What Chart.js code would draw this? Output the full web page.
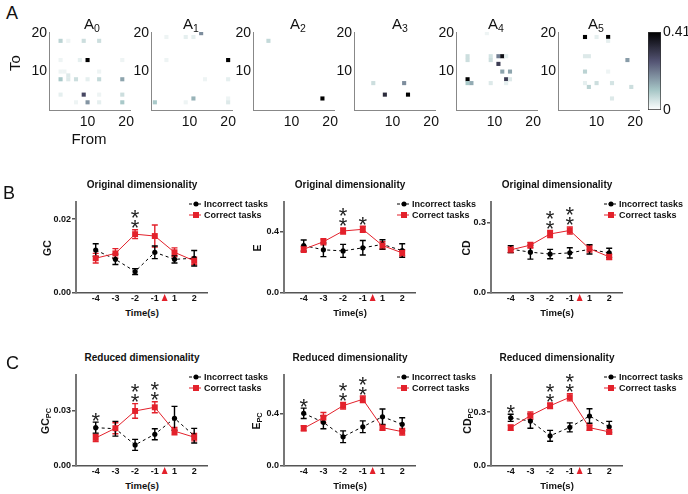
<!DOCTYPE html>
<html>
<head>
<meta charset="utf-8">
<script src="https://cdn.jsdelivr.net/npm/chart.js@4.4.1/dist/chart.umd.min.js"></script>
<style>
  body { margin: 0; background: #fff; }
  #page { position: relative; width: 688px; height: 494px; overflow: hidden; background: #fff;
          font-family: "Liberation Sans", Arial, sans-serif; color: #111; }
  #page canvas { position: absolute; }
  .t { position: absolute; white-space: nowrap; line-height: 1; transform: translate(-50%, -50%); }
  .tl { position: absolute; white-space: nowrap; line-height: 1; transform: translateY(-50%); }
  .rot { position: absolute; white-space: nowrap; line-height: 1; transform: translate(-50%, -50%) rotate(-90deg); }
  .sub { position: relative; top: 0.3em; font-size: 70%; }
</style>
</head>
<body>
<div id="page"></div>
<script>
// ---- data ----
const timeLabels = ['-4', '-3', '-2', '-1', '1', '2'];
const onsetIndex = 3.5; // red triangle between -1 and 1
const legendLabels = ['Incorrect tasks', 'Correct tasks'];

const gcIncorrect = [0.0116, 0.0091, 0.0058, 0.0110, 0.0091, 0.0094];
const gcIncorrectErr = [0.0017, 0.0014, 0.0008, 0.0017, 0.0010, 0.0021];
const gcCorrect = [0.0094, 0.0107, 0.0159, 0.0154, 0.0110, 0.0087];
const gcCorrectErr = [0.0013, 0.0013, 0.0012, 0.0030, 0.0012, 0.0010];
const gcStars = [0, 0, 2, 0, 0, 0];

const eIncorrect = [0.308, 0.280, 0.273, 0.293, 0.315, 0.275];
const eIncorrectErr = [0.036, 0.044, 0.042, 0.047, 0.030, 0.044];
const eCorrect = [0.284, 0.332, 0.402, 0.413, 0.308, 0.260];
const eCorrectErr = [0.020, 0.020, 0.020, 0.020, 0.025, 0.020];
const eStars = [0, 0, 2, 1, 0, 0];

const cdIncorrect = [0.188, 0.175, 0.167, 0.172, 0.187, 0.172];
const cdIncorrectErr = [0.015, 0.030, 0.020, 0.022, 0.020, 0.020];
const cdCorrect = [0.185, 0.205, 0.253, 0.268, 0.190, 0.155];
const cdCorrectErr = [0.012, 0.012, 0.015, 0.015, 0.015, 0.012];
const cdStars = [0, 0, 2, 2, 0, 0];

const gcPcIncorrect = [0.0209, 0.0203, 0.0115, 0.0173, 0.0260, 0.0165];
const gcPcIncorrectErr = [0.0030, 0.0040, 0.0030, 0.0030, 0.0065, 0.0040];
const gcPcCorrect = [0.0153, 0.0206, 0.0300, 0.0320, 0.0190, 0.0157];
const gcPcCorrectErr = [0.0020, 0.0030, 0.0040, 0.0030, 0.0020, 0.0020];
const gcPcStars = [1, 0, 2, 2, 0, 0];

const ePcIncorrect = [0.405, 0.336, 0.225, 0.302, 0.379, 0.321];
const ePcIncorrectErr = [0.040, 0.050, 0.045, 0.045, 0.060, 0.050];
const ePcCorrect = [0.290, 0.372, 0.464, 0.513, 0.295, 0.264];
const ePcCorrectErr = [0.020, 0.040, 0.025, 0.025, 0.020, 0.025];
const ePcStars = [1, 0, 2, 2, 0, 0];

const cdPcIncorrect = [0.268, 0.250, 0.168, 0.215, 0.278, 0.218];
const cdPcIncorrectErr = [0.020, 0.040, 0.030, 0.025, 0.040, 0.030];
const cdPcCorrect = [0.213, 0.280, 0.335, 0.382, 0.213, 0.190];
const cdPcCorrectErr = [0.015, 0.020, 0.015, 0.020, 0.015, 0.012];
const cdPcStars = [1, 0, 2, 2, 0, 0];

// connectivity matrices: [from, to, value]
const colorMax = 0.41;
const matrixA0 = [[3,18,0.08],[5,18,0.02],[9,18,0.06],[13,18,0.06],
  [3,13,0.02],[8,13,0.03],[10,13,0.41],[19,13,0.02],
  [3,10,0.02],[4,10,0.02],[13,10,0.02],[5,9,0.04],
  [3,8,0.10],[5,8,0.04],[7,8,0.06],[10,8,0.03],[13,8,0.07],[19,8,0.15],
  [3,4,0.03],[9,4,0.28],[13,4,0.02],[19,4,0.06],
  [7,2,0.02],[10,2,0.17],[13,2,0.03],[19,2,0.10]];
const matrixA1 = [[13,20,0.18],[4,19,0.02],[9,19,0.03],[11,19,0.03],
  [20,13,0.41],[4,13,0.02],[14,8,0.02],[20,8,0.03],
  [11,3,0.13],[20,3,0.02],[1,2,0.10],[9,2,0.02],[20,2,0.04]];
const matrixA2 = [[4,18,0.07],[18,3,0.41]];
const matrixA3 = [[5,7,0.06],[8,4,0.33],[13,7,0.18],[14,4,0.41]];
const matrixA4 = [[8,20,0.02],[3,14,0.06],[3,13,0.06],[9,14,0.05],[9,13,0.06],
  [11,14,0.20],[12,14,0.38],[13,14,0.03],[11,12,0.30],[12,10,0.15],[14,10,0.15],
  [13,8,0.30],[14,8,0.04],[3,8,0.41],[3,7,0.10],[4,7,0.14],[9,7,0.04],[13,7,0.03]];
const matrixA5 = [[7,19,0.41],[10,19,0.03],[13,19,0.41],[13,18,0.03],
  [7,14,0.04],[8,14,0.04],[18,13,0.16],[7,10,0.08],[13,10,0.02],
  [7,7,0.03],[8,6,0.08],[10,7,0.06],[14,7,0.05],[14,3,0.04],[19,6,0.06]];
const matrixTicks = [10, 20];

// ---- helpers ----
Chart.defaults.font.family = '"Liberation Sans", Arial, sans-serif';
Chart.defaults.color = '#111';
const page = document.getElementById('page');
const red = '#e3212b';

function addCanvas(left, top, w, h) {
  const c = document.createElement('canvas');
  c.width = w; c.height = h;
  c.style.left = left + 'px'; c.style.top = top + 'px';
  page.appendChild(c);
  return c;
}

function text(x, y, html, css, cls) {
  const d = document.createElement('div');
  d.className = cls || 't';
  d.style.cssText = 'left:' + x + 'px;top:' + y + 'px;' + (css || '');
  d.innerHTML = html;
  page.appendChild(d);
  return d;
}

// reversed MATLAB "bone"
function boneColor(v) {
  const t = 1 - Math.min(Math.max(v / colorMax, 0), 1);
  const hr = Math.min(1, t / 0.375);
  const hg = Math.min(1, Math.max(0, (t - 0.375) / 0.375));
  const hb = Math.min(1, Math.max(0, (t - 0.75) / 0.25));
  const r = (7 * t + hb) / 8, g = (7 * t + hg) / 8, b = (7 * t + hr) / 8;
  return 'rgb(' + Math.round(r * 255) + ',' + Math.round(g * 255) + ',' + Math.round(b * 255) + ')';
}

// ---- panel A: matrices ----
function matrixPanel(x0, cells) {
  const w = 81, h = 78, yW = 30, xH = 22, padT = 12, padR = 14;
  const canvas = addCanvas(x0 - yW, 32 - padT, w + yW + padR, h + padT + xH);
  const axisTicks = s => { s.ticks = matrixTicks.map(v => ({ value: v })); };
  new Chart(canvas, {
    type: 'scatter',
    data: {
      datasets: [{
        data: cells.map(c => ({ x: c[0], y: c[1], v: c[2] })),
        pointStyle: 'rect',
        pointRadius: 2.9,
        borderWidth: 0,
        backgroundColor: ctx => ctx.raw ? boneColor(ctx.raw.v) : '#fff'
      }]
    },
    options: {
      animation: false,
      responsive: false,
      layout: { padding: { left: 0, top: padT, right: padR, bottom: 0 } },
      plugins: { legend: { display: false }, tooltip: { enabled: false } },
      scales: {
        x: {
          type: 'linear', min: 0, max: 21,
          afterBuildTicks: axisTicks,
          afterFit: s => { s.height = xH; },
          ticks: { font: { size: 14 }, padding: 4, color: '#111', maxRotation: 0 },
          grid: { display: false, drawTicks: false },
          border: { color: '#888', width: 1 }
        },
        y: {
          type: 'linear', min: 0, max: 20.3,
          afterBuildTicks: axisTicks,
          afterFit: s => { s.width = yW; },
          ticks: { font: { size: 14 }, padding: 2, color: '#111' },
          grid: { display: false, drawTicks: false },
          border: { color: '#888', width: 1 }
        }
      }
    }
  });
}

const matrices = [matrixA0, matrixA1, matrixA2, matrixA3, matrixA4, matrixA5];
const matrixLeft = [49, 150.8, 252.6, 354.4, 456.2, 558];
const matrixTitleLeft = [84, 183, 290, 392, 488, 588];
matrices.forEach((m, i) => {
  matrixPanel(matrixLeft[i], m);
  text(matrixTitleLeft[i], 23, 'A<span class="sub">' + i + '</span>', 'font-size:15px;', 'tl');
});

// colour bar
(function () {
  const x0 = 648, w = 13, h = 78, yW = 30, padT = 12;
  const canvas = addCanvas(x0, 32 - padT, w + yW, h + padT + 12);
  new Chart(canvas, {
    type: 'bar',
    data: {
      labels: [''],
      datasets: [{
        data: [[0, colorMax]],
        barPercentage: 1,
        categoryPercentage: 1,
        borderWidth: 1,
        borderColor: '#333',
        borderSkipped: false,
        backgroundColor: ctx => {
          const area = ctx.chart.chartArea;
          if (!area) return '#888';
          const g = ctx.chart.ctx.createLinearGradient(0, area.bottom, 0, area.top);
          for (let k = 0; k <= 20; k++) g.addColorStop(k / 20, boneColor(k / 20 * colorMax));
          return g;
        }
      }]
    },
    options: {
      animation: false,
      responsive: false,
      layout: { padding: { left: 0, top: padT, right: 0, bottom: 12 } },
      plugins: { legend: { display: false }, tooltip: { enabled: false } },
      scales: {
        x: { display: false },
        y: {
          position: 'right', min: 0, max: colorMax,
          afterBuildTicks: s => { s.ticks = [{ value: 0 }, { value: colorMax }]; },
          afterFit: s => { s.width = yW; },
          ticks: { font: { size: 14 }, padding: 2, color: '#111', callback: v => (v === 0 ? '0' : String(v)) },
          grid: { display: false, drawTicks: false },
          border: { display: false }
        }
      }
    }
  });
})();

text(12, 13, 'A', 'font-size:18px;');
text(14, 63, 'To', 'font-size:15px;', 'rot');
text(89, 138, 'From', 'font-size:15px;');

// ---- panels B and C ----
const errorBars = {
  id: 'errorBars',
  beforeDatasetsDraw(chart) {
    const { ctx, scales: { x, y } } = chart;
    chart.data.datasets.forEach(ds => {
      ctx.save();
      ctx.strokeStyle = ds.borderColor;
      ctx.lineWidth = 1.4;
      ds.data.forEach((p, i) => {
        const px = x.getPixelForValue(p.x);
        const top = y.getPixelForValue(p.y + ds.errors[i]);
        const bot = y.getPixelForValue(p.y - ds.errors[i]);
        ctx.beginPath();
        ctx.moveTo(px, top); ctx.lineTo(px, bot);
        ctx.moveTo(px - 3, top); ctx.lineTo(px + 3, top);
        ctx.moveTo(px - 3, bot); ctx.lineTo(px + 3, bot);
        ctx.stroke();
      });
      ctx.restore();
    });
  }
};

function markers(stars) {
  const fs = 22;
  return {
    id: 'markers',
    afterDatasetsDraw(chart) {
      const { ctx, scales: { x, y } } = chart;
      ctx.save();
      ctx.fillStyle = '#222';
      ctx.font = fs + 'px "Liberation Sans", Arial, sans-serif';
      ctx.textAlign = 'center';
      ctx.textBaseline = 'alphabetic';
      stars.forEach((n, i) => {
        if (!n) return;
        let top = Infinity;
        chart.data.datasets.forEach(ds => {
          top = Math.min(top, y.getPixelForValue(ds.data[i].y + ds.errors[i]));
        });
        const px = x.getPixelForValue(i);
        for (let k = 0; k < n; k++) {
          const cy = top - 7.5 - 10 * k;
          ctx.fillText('*', px, cy + 0.59 * fs);
        }
      });
      // onset triangle
      const ox = x.getPixelForValue(onsetIndex);
      const base = y.bottom;
      ctx.fillStyle = red;
      ctx.beginPath();
      ctx.moveTo(ox, base + 1);
      ctx.lineTo(ox + 3, base + 8);
      ctx.lineTo(ox - 3, base + 8);
      ctx.closePath();
      ctx.fill();
      ctx.restore();
    }
  };
}

function linePanel(o) {
  const x0 = o.x0, y0 = o.y0, w = 131, h = 91;
  const yW = 36, xH = 12, padT = 12, padR = 6;
  const canvas = addCanvas(x0 - yW, y0 - padT, w + yW + padR, h + padT + xH);
  new Chart(canvas, {
    type: 'line',
    data: {
      datasets: [
        {
          label: legendLabels[1],
          data: o.cor.map((v, i) => ({ x: i, y: v })),
          errors: o.corErr,
          borderColor: red,
          backgroundColor: red,
          pointBackgroundColor: red,
          pointBorderWidth: 0,
          borderWidth: 1,
          pointStyle: 'rect',
          pointRadius: 4.2
        },
        {
          label: legendLabels[0],
          data: o.inc.map((v, i) => ({ x: i, y: v })),
          errors: o.incErr,
          borderColor: '#000',
          backgroundColor: '#000',
          pointBackgroundColor: '#000',
          pointBorderWidth: 0,
          borderWidth: 1,
          borderDash: [3, 3],
          pointStyle: 'circle',
          pointRadius: 2.6
        }
      ]
    },
    options: {
      animation: false,
      responsive: false,
      layout: { padding: { left: 0, top: padT, right: padR, bottom: 0 } },
      plugins: { legend: { display: false }, tooltip: { enabled: false } },
      scales: {
        x: {
          type: 'linear', min: -1, max: 5.65,
          afterBuildTicks: s => { s.ticks = timeLabels.map((_, i) => ({ value: i })); },
          afterFit: s => { s.height = xH; },
          ticks: { callback: v => timeLabels[v], padding: 0, font: { size: 9, weight: 'bold' }, color: '#111', maxRotation: 0, autoSkip: false },
          grid: { display: false, drawTicks: false },
          border: { color: '#555', width: 1.5 }
        },
        y: {
          min: 0, max: o.yMax,
          afterBuildTicks: s => { s.ticks = o.yTicks.map(v => ({ value: v })); },
          afterFit: s => { s.width = yW; },
          ticks: { callback: v => v.toFixed(o.digits), padding: 1, font: { size: 9, weight: 'bold' }, color: '#111' },
          grid: { drawOnChartArea: false, tickLength: 4, color: '#555', lineWidth: 1.5 },
          border: { color: '#777', width: 2 }
        }
      }
    },
    plugins: [errorBars, markers(o.stars)]
  });

  const cx = x0 + 66;
  text(cx, y0 - 17, o.title, 'font-size:10px;font-weight:bold;');
  text(cx, y0 + 111, 'Time(s)', 'font-size:9.5px;font-weight:bold;');
  text(o.ylx, y0 + 46, o.ylabel, 'font-size:10.5px;font-weight:bold;', 'rot');

  // legend
  const lx = x0 + 113, r1 = y0 + 1.5, r2 = y0 + 12.5;
  text(lx, r1, '', 'width:12px;height:0;border-top:1px dashed #000;', 'tl');
  text(lx + 6.5, r1, '', 'width:5px;height:5px;border-radius:50%;background:#000;');
  text(lx, r2, '', 'width:12px;height:0;border-top:1px solid ' + red + ';', 'tl');
  text(lx + 6.5, r2, '', 'width:6px;height:6px;background:' + red + ';');
  text(x0 + 128, r1, legendLabels[0], 'font-size:9px;font-weight:bold;', 'tl');
  text(x0 + 128, r2, legendLabels[1], 'font-size:9px;font-weight:bold;', 'tl');
}

const orig = 'Original dimensionality', red2 = 'Reduced dimensionality';
linePanel({ x0: 76, y0: 202, title: orig, ylabel: 'GC', ylx: 46.5,
  inc: gcIncorrect, incErr: gcIncorrectErr, cor: gcCorrect, corErr: gcCorrectErr, stars: gcStars,
  yMax: 0.0246, yTicks: [0, 0.02], digits: 2 });
linePanel({ x0: 284, y0: 202, title: orig, ylabel: 'E', ylx: 257,
  inc: eIncorrect, incErr: eIncorrectErr, cor: eCorrect, corErr: eCorrectErr, stars: eStars,
  yMax: 0.59, yTicks: [0, 0.4], digits: 1 });
linePanel({ x0: 491, y0: 202, title: orig, ylabel: 'CD', ylx: 466,
  inc: cdIncorrect, incErr: cdIncorrectErr, cor: cdCorrect, corErr: cdCorrectErr, stars: cdStars,
  yMax: 0.39, yTicks: [0, 0.3], digits: 1 });
linePanel({ x0: 76, y0: 375, title: red2, ylabel: 'GC<span class="sub">PC</span>', ylx: 45,
  inc: gcPcIncorrect, incErr: gcPcIncorrectErr, cor: gcPcCorrect, corErr: gcPcCorrectErr, stars: gcPcStars,
  yMax: 0.0496, yTicks: [0, 0.03], digits: 2 });
linePanel({ x0: 284, y0: 375, title: red2, ylabel: 'E<span class="sub">PC</span>', ylx: 256,
  inc: ePcIncorrect, incErr: ePcIncorrectErr, cor: ePcCorrect, corErr: ePcCorrectErr, stars: ePcStars,
  yMax: 0.7, yTicks: [0, 0.4], digits: 1 });
linePanel({ x0: 491, y0: 375, title: red2, ylabel: 'CD<span class="sub">PC</span>', ylx: 467,
  inc: cdPcIncorrect, incErr: cdPcIncorrectErr, cor: cdPcCorrect, corErr: cdPcCorrectErr, stars: cdPcStars,
  yMax: 0.506, yTicks: [0, 0.3], digits: 1 });

text(9, 192.5, 'B', 'font-size:18px;');
text(12.5, 362.5, 'C', 'font-size:18px;');
</script>
</body>
</html>
